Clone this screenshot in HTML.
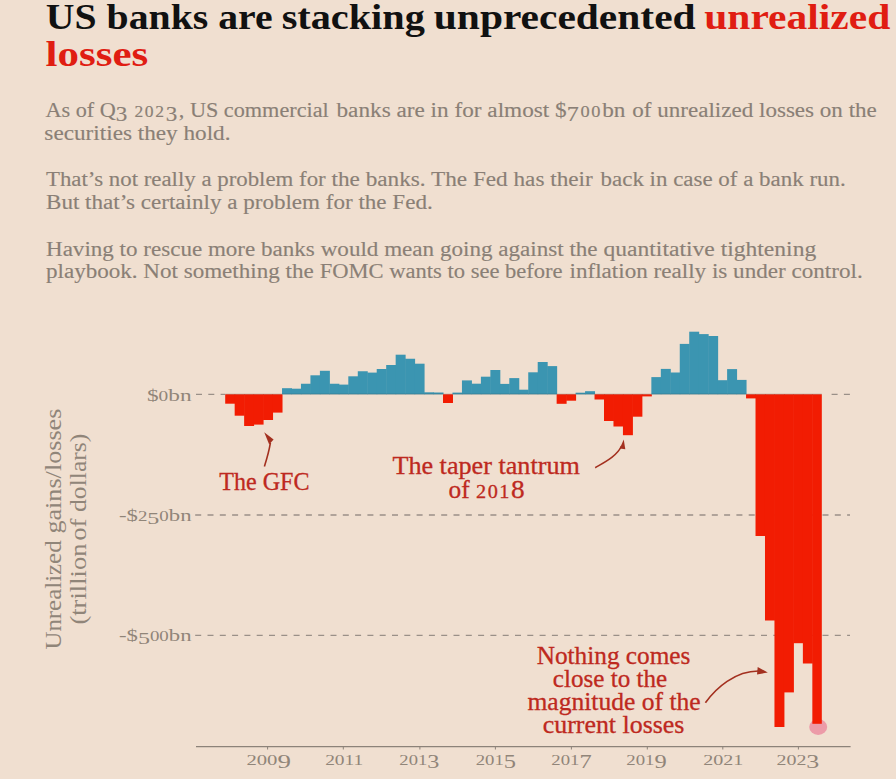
<!DOCTYPE html>
<html><head><meta charset="utf-8"><style>
html,body{margin:0;padding:0;background:#F0DFD0;width:896px;height:779px;overflow:hidden}
svg{display:block;font-family:"Liberation Serif",serif}
</style></head><body>
<svg width="896" height="779" viewBox="0 0 896 779">
<text x="45.89" y="29.40" font-size="35.5" fill="#111111" font-weight="bold" textLength="226.71" lengthAdjust="spacingAndGlyphs">US banks are</text>
<text x="281.70" y="29.40" font-size="35.5" fill="#111111" font-weight="bold" textLength="143.10" lengthAdjust="spacingAndGlyphs">stacking</text>
<text x="433.80" y="29.40" font-size="35.5" fill="#111111" font-weight="bold" textLength="261.80" lengthAdjust="spacingAndGlyphs">unprecedented</text>
<text x="704.30" y="29.40" font-size="35.5" fill="#E01D12" font-weight="bold" textLength="185.96" lengthAdjust="spacingAndGlyphs">unrealized</text>
<text x="45.59" y="65.80" font-size="35.5" fill="#E01D12" font-weight="bold" textLength="102.62" lengthAdjust="spacingAndGlyphs">losses</text>
<text x="45.40" y="116.80" font-size="20.5" fill="#8A7F76" font-weight="normal" textLength="283.30" lengthAdjust="spacingAndGlyphs" stroke="#8A7F76" stroke-width="0.15">As of Q<tspan font-size="21.32" dy="3.90" letter-spacing="1.5">3</tspan><tspan dy="-3.90"> </tspan><tspan font-size="16.20" letter-spacing="1.5">202</tspan><tspan font-size="21.32" dy="3.90" letter-spacing="1.5">3</tspan><tspan dy="-3.90">, US commercial</tspan></text>
<text x="336.50" y="116.80" font-size="20.5" fill="#8A7F76" font-weight="normal" textLength="288.90" lengthAdjust="spacingAndGlyphs" stroke="#8A7F76" stroke-width="0.15">banks are in for almost $<tspan font-size="21.32" dy="3.90" letter-spacing="1.5">7</tspan><tspan font-size="16.20" dy="-3.90" letter-spacing="1.5">00</tspan>bn</text>
<text x="632.30" y="116.80" font-size="20.5" fill="#8A7F76" font-weight="normal" textLength="244.51" lengthAdjust="spacingAndGlyphs" stroke="#8A7F76" stroke-width="0.15">of unrealized losses on the</text>
<text x="44.39" y="139.60" font-size="20.5" fill="#8A7F76" font-weight="normal" textLength="186.13" lengthAdjust="spacingAndGlyphs" stroke="#8A7F76" stroke-width="0.15">securities they hold.</text>
<text x="46.00" y="186.40" font-size="20.5" fill="#8A7F76" font-weight="normal" textLength="279.70" lengthAdjust="spacingAndGlyphs" stroke="#8A7F76" stroke-width="0.15">That’s not really a problem for</text>
<text x="331.50" y="186.40" font-size="20.5" fill="#8A7F76" font-weight="normal" textLength="261.30" lengthAdjust="spacingAndGlyphs" stroke="#8A7F76" stroke-width="0.15">the banks. The Fed has their</text>
<text x="600.60" y="186.40" font-size="20.5" fill="#8A7F76" font-weight="normal" textLength="245.11" lengthAdjust="spacingAndGlyphs" stroke="#8A7F76" stroke-width="0.15">back in case of a bank run.</text>
<text x="46.00" y="209.10" font-size="20.5" fill="#8A7F76" font-weight="normal" textLength="386.70" lengthAdjust="spacingAndGlyphs" stroke="#8A7F76" stroke-width="0.15">But that’s certainly a problem for the Fed.</text>
<text x="46.00" y="255.50" font-size="20.5" fill="#8A7F76" font-weight="normal" textLength="268.80" lengthAdjust="spacingAndGlyphs" stroke="#8A7F76" stroke-width="0.15">Having to rescue more banks</text>
<text x="320.70" y="255.50" font-size="20.5" fill="#8A7F76" font-weight="normal" textLength="276.90" lengthAdjust="spacingAndGlyphs" stroke="#8A7F76" stroke-width="0.15">would mean going against the</text>
<text x="603.50" y="255.50" font-size="20.5" fill="#8A7F76" font-weight="normal" textLength="212.71" lengthAdjust="spacingAndGlyphs" stroke="#8A7F76" stroke-width="0.15">quantitative tightening</text>
<text x="46.00" y="278.40" font-size="20.5" fill="#8A7F76" font-weight="normal" textLength="267.70" lengthAdjust="spacingAndGlyphs" stroke="#8A7F76" stroke-width="0.15">playbook. Not something the</text>
<text x="319.79" y="278.40" font-size="20.5" fill="#8A7F76" font-weight="normal" textLength="242.81" lengthAdjust="spacingAndGlyphs" stroke="#8A7F76" stroke-width="0.15">FOMC wants to see before</text>
<text x="569.50" y="278.40" font-size="20.5" fill="#8A7F76" font-weight="normal" textLength="293.21" lengthAdjust="spacingAndGlyphs" stroke="#8A7F76" stroke-width="0.15">inflation really is under control.</text>
<text x="146.95" y="400.80" font-size="16.5" fill="#908579" font-weight="normal" textLength="44.59" lengthAdjust="spacingAndGlyphs">$<tspan font-size="13.69">0</tspan>bn</text>
<text x="118.98" y="520.80" font-size="16.5" fill="#908579" font-weight="normal" textLength="72.55" lengthAdjust="spacingAndGlyphs">-$<tspan font-size="13.69">2</tspan><tspan font-size="17.49" dy="3.20">5</tspan><tspan font-size="13.69" dy="-3.20">0</tspan>bn</text>
<text x="118.98" y="640.80" font-size="16.5" fill="#908579" font-weight="normal" textLength="72.55" lengthAdjust="spacingAndGlyphs">-$<tspan font-size="17.49" dy="3.20">5</tspan><tspan font-size="13.69" dy="-3.20">00</tspan>bn</text>
<text x="246.45" y="764.70" font-size="16.5" fill="#908579" font-weight="normal" textLength="44.50" lengthAdjust="spacingAndGlyphs"><tspan font-size="15.18">200</tspan><tspan font-size="19.80" dy="3.00">9</tspan></text>
<text x="325.15" y="764.70" font-size="16.5" fill="#908579" font-weight="normal" textLength="38.12" lengthAdjust="spacingAndGlyphs"><tspan font-size="15.18">2011</tspan></text>
<text x="399.36" y="764.70" font-size="16.5" fill="#908579" font-weight="normal" textLength="39.92" lengthAdjust="spacingAndGlyphs"><tspan font-size="15.18">201</tspan><tspan font-size="19.80" dy="3.00">3</tspan></text>
<text x="475.71" y="764.70" font-size="16.5" fill="#908579" font-weight="normal" textLength="40.33" lengthAdjust="spacingAndGlyphs"><tspan font-size="15.18">201</tspan><tspan font-size="19.80" dy="3.00">5</tspan></text>
<text x="551.34" y="764.70" font-size="16.5" fill="#908579" font-weight="normal" textLength="40.31" lengthAdjust="spacingAndGlyphs"><tspan font-size="15.18">201</tspan><tspan font-size="19.80" dy="3.00">7</tspan></text>
<text x="626.37" y="764.70" font-size="16.5" fill="#908579" font-weight="normal" textLength="40.39" lengthAdjust="spacingAndGlyphs"><tspan font-size="15.18">201</tspan><tspan font-size="19.80" dy="3.00">9</tspan></text>
<text x="703.21" y="764.70" font-size="16.5" fill="#908579" font-weight="normal" textLength="40.07" lengthAdjust="spacingAndGlyphs"><tspan font-size="15.18">2021</tspan></text>
<text x="776.47" y="764.70" font-size="16.5" fill="#908579" font-weight="normal" textLength="42.86" lengthAdjust="spacingAndGlyphs"><tspan font-size="15.18">202</tspan><tspan font-size="19.80" dy="3.00">3</tspan></text>
<text x="219.29" y="490.00" font-size="24.2" fill="#BE2920" font-weight="normal" textLength="90.13" lengthAdjust="spacingAndGlyphs" stroke="#BE2920" stroke-width="0.3">The GFC</text>
<text x="392.40" y="474.30" font-size="24.2" fill="#BE2920" font-weight="normal" textLength="187.50" lengthAdjust="spacingAndGlyphs" stroke="#BE2920" stroke-width="0.3">The taper tantrum</text>
<text x="448.58" y="497.70" font-size="24.2" fill="#BE2920" font-weight="normal" textLength="77.70" lengthAdjust="spacingAndGlyphs" stroke="#BE2920" stroke-width="0.3">of <tspan font-size="19.36" letter-spacing="1.5">201</tspan><tspan font-size="26.14" letter-spacing="1.5">8</tspan></text>
<text x="536.70" y="664.10" font-size="24.2" fill="#BE2920" font-weight="normal" textLength="153.71" lengthAdjust="spacingAndGlyphs" stroke="#BE2920" stroke-width="0.3">Nothing comes</text>
<text x="552.89" y="686.70" font-size="24.2" fill="#BE2920" font-weight="normal" textLength="114.22" lengthAdjust="spacingAndGlyphs" stroke="#BE2920" stroke-width="0.3">close to the</text>
<text x="527.50" y="709.80" font-size="24.2" fill="#BE2920" font-weight="normal" textLength="173.11" lengthAdjust="spacingAndGlyphs" stroke="#BE2920" stroke-width="0.3">magnitude of the</text>
<text x="542.70" y="732.60" font-size="24.2" fill="#BE2920" font-weight="normal" textLength="141.71" lengthAdjust="spacingAndGlyphs" stroke="#BE2920" stroke-width="0.3">current losses</text>
<line x1="196" y1="394.3" x2="225" y2="394.3" stroke="#9A9088" stroke-width="1.3" stroke-dasharray="6 6.3"/>
<line x1="831.6" y1="394.3" x2="850" y2="394.3" stroke="#9A9088" stroke-width="1.3" stroke-dasharray="6 6.3"/>
<line x1="195.2" y1="515.0" x2="850" y2="515.0" stroke="#9A9088" stroke-width="1.3" stroke-dasharray="6 6.3"/>
<line x1="195.2" y1="635.3" x2="850" y2="635.3" stroke="#9A9088" stroke-width="1.3" stroke-dasharray="6 6.3"/>
<ellipse cx="818.2" cy="727.0" rx="9.0" ry="7.9" fill="#EC9BA8"/>
<g><rect x="225.20" y="394.30" width="9.970" height="9.40" fill="#F21C02"/><rect x="234.67" y="394.30" width="9.970" height="21.40" fill="#F21C02"/><rect x="244.14" y="394.30" width="9.970" height="31.70" fill="#F21C02"/><rect x="253.61" y="394.30" width="9.970" height="30.30" fill="#F21C02"/><rect x="263.08" y="394.30" width="9.970" height="25.70" fill="#F21C02"/><rect x="272.55" y="394.30" width="9.970" height="18.30" fill="#F21C02"/><rect x="282.02" y="388.20" width="9.970" height="6.10" fill="#3B95B1"/><rect x="291.49" y="388.70" width="9.970" height="5.60" fill="#3B95B1"/><rect x="300.96" y="383.75" width="9.970" height="10.55" fill="#3B95B1"/><rect x="310.43" y="375.30" width="9.970" height="19.00" fill="#3B95B1"/><rect x="319.90" y="370.80" width="9.970" height="23.50" fill="#3B95B1"/><rect x="329.37" y="383.75" width="9.970" height="10.55" fill="#3B95B1"/><rect x="338.84" y="384.60" width="9.970" height="9.70" fill="#3B95B1"/><rect x="348.31" y="376.30" width="9.970" height="18.00" fill="#3B95B1"/><rect x="357.78" y="371.25" width="9.970" height="23.05" fill="#3B95B1"/><rect x="367.25" y="372.60" width="9.970" height="21.70" fill="#3B95B1"/><rect x="376.72" y="369.00" width="9.970" height="25.30" fill="#3B95B1"/><rect x="386.19" y="365.00" width="9.970" height="29.30" fill="#3B95B1"/><rect x="395.66" y="354.70" width="9.970" height="39.60" fill="#3B95B1"/><rect x="405.13" y="358.75" width="9.970" height="35.55" fill="#3B95B1"/><rect x="414.60" y="363.70" width="9.970" height="30.60" fill="#3B95B1"/><rect x="424.07" y="392.30" width="9.970" height="2.00" fill="#3B95B1"/><rect x="433.54" y="392.50" width="9.970" height="1.80" fill="#3B95B1"/><rect x="443.01" y="394.30" width="9.970" height="8.70" fill="#F21C02"/><rect x="452.48" y="392.60" width="9.970" height="1.70" fill="#3B95B1"/><rect x="461.95" y="380.40" width="9.970" height="13.90" fill="#3B95B1"/><rect x="471.42" y="383.70" width="9.970" height="10.60" fill="#3B95B1"/><rect x="480.89" y="376.70" width="9.970" height="17.60" fill="#3B95B1"/><rect x="490.36" y="370.00" width="9.970" height="24.30" fill="#3B95B1"/><rect x="499.83" y="383.90" width="9.970" height="10.40" fill="#3B95B1"/><rect x="509.30" y="378.10" width="9.970" height="16.20" fill="#3B95B1"/><rect x="518.77" y="389.70" width="9.970" height="4.60" fill="#3B95B1"/><rect x="528.24" y="372.30" width="9.970" height="22.00" fill="#3B95B1"/><rect x="537.71" y="362.00" width="9.970" height="32.30" fill="#3B95B1"/><rect x="547.18" y="366.10" width="9.970" height="28.20" fill="#3B95B1"/><rect x="556.65" y="394.30" width="9.970" height="9.50" fill="#F21C02"/><rect x="566.12" y="394.30" width="9.970" height="6.40" fill="#F21C02"/><rect x="575.59" y="392.70" width="9.970" height="1.60" fill="#3B95B1"/><rect x="585.06" y="391.20" width="9.970" height="3.10" fill="#3B95B1"/><rect x="594.53" y="394.30" width="9.970" height="5.20" fill="#F21C02"/><rect x="604.00" y="394.30" width="9.970" height="26.70" fill="#F21C02"/><rect x="613.47" y="394.30" width="9.970" height="32.20" fill="#F21C02"/><rect x="622.94" y="394.30" width="9.970" height="40.90" fill="#F21C02"/><rect x="632.41" y="394.30" width="9.970" height="22.40" fill="#F21C02"/><rect x="641.88" y="394.30" width="9.970" height="2.10" fill="#F21C02"/><rect x="651.35" y="377.10" width="9.970" height="17.20" fill="#3B95B1"/><rect x="660.82" y="368.90" width="9.970" height="25.40" fill="#3B95B1"/><rect x="670.29" y="372.50" width="9.970" height="21.80" fill="#3B95B1"/><rect x="679.76" y="343.90" width="9.970" height="50.40" fill="#3B95B1"/><rect x="689.23" y="331.70" width="9.970" height="62.60" fill="#3B95B1"/><rect x="698.70" y="334.10" width="9.970" height="60.20" fill="#3B95B1"/><rect x="708.17" y="336.00" width="9.970" height="58.30" fill="#3B95B1"/><rect x="717.64" y="380.20" width="9.970" height="14.10" fill="#3B95B1"/><rect x="727.11" y="369.10" width="9.970" height="25.20" fill="#3B95B1"/><rect x="736.58" y="379.90" width="9.970" height="14.40" fill="#3B95B1"/><rect x="746.05" y="394.30" width="9.970" height="4.10" fill="#F21C02"/><rect x="755.52" y="394.30" width="9.970" height="141.70" fill="#F21C02"/><rect x="764.99" y="394.30" width="9.970" height="226.20" fill="#F21C02"/><rect x="774.46" y="394.30" width="9.970" height="332.70" fill="#F21C02"/><rect x="783.93" y="394.30" width="9.970" height="298.10" fill="#F21C02"/><rect x="793.40" y="394.30" width="9.970" height="248.90" fill="#F21C02"/><rect x="802.87" y="394.30" width="9.970" height="269.20" fill="#F21C02"/><rect x="812.34" y="394.30" width="9.470" height="329.50" fill="#F21C02"/></g>
<line x1="225.2" y1="394.2" x2="821.8" y2="394.2" stroke="#1a1a1a" stroke-opacity="0.16" stroke-width="1.3"/>
<line x1="196" y1="746.6" x2="850.6" y2="746.6" stroke="#8C8279" stroke-width="1.4"/>
<line x1="267.6" y1="746" x2="267.6" y2="749.5" stroke="#8C8279" stroke-width="1"/>
<line x1="343.3" y1="746" x2="343.3" y2="749.5" stroke="#8C8279" stroke-width="1"/>
<line x1="419.9" y1="746" x2="419.9" y2="749.5" stroke="#8C8279" stroke-width="1"/>
<line x1="495.4" y1="746" x2="495.4" y2="749.5" stroke="#8C8279" stroke-width="1"/>
<line x1="571.4" y1="746" x2="571.4" y2="749.5" stroke="#8C8279" stroke-width="1"/>
<line x1="647.3" y1="746" x2="647.3" y2="749.5" stroke="#8C8279" stroke-width="1"/>
<line x1="722.8" y1="746" x2="722.8" y2="749.5" stroke="#8C8279" stroke-width="1"/>
<line x1="798.4" y1="746" x2="798.4" y2="749.5" stroke="#8C8279" stroke-width="1"/>
<g transform="translate(60.9,649.6) rotate(-90)"><text x="0" y="0" font-size="24" fill="#908579" textLength="109.2" lengthAdjust="spacingAndGlyphs">Unrealized</text></g>
<g transform="translate(60.9,533.6) rotate(-90)"><text x="0" y="0" font-size="24" fill="#908579" textLength="125.0" lengthAdjust="spacingAndGlyphs">gains/losses</text></g>
<g transform="translate(85.6,624.6) rotate(-90)"><text x="0" y="0" font-size="24" fill="#908579" textLength="81.0" lengthAdjust="spacingAndGlyphs">(trillion</text></g>
<g transform="translate(85.6,540.8) rotate(-90)"><text x="0" y="0" font-size="24" fill="#908579" textLength="22.3" lengthAdjust="spacingAndGlyphs">of</text></g>
<g transform="translate(85.6,512.0) rotate(-90)"><text x="0" y="0" font-size="24" fill="#908579" textLength="78.3" lengthAdjust="spacingAndGlyphs">dollars)</text></g>
<path d="M264.4,466.5 Q268.9,452 270.4,442.8" fill="none" stroke="#A3301F" stroke-width="1.6"/>
<polygon points="264.2,432.3 273.6,439.6 269.2,444.6" fill="#A3301F"/>
<path d="M595.2,467.7 C605,462 617,456 621.5,446" fill="none" stroke="#A3301F" stroke-width="1.6"/>
<polygon points="623.75,439.5 619.8,448.5 625.3,449.3" fill="#A3301F"/>
<path d="M705.4,702.7 C716,688 735,671 758.5,671" fill="none" stroke="#A3301F" stroke-width="1.6"/>
<polygon points="767.8,672.4 757.7,667.1 757.0,674.6" fill="#A3301F"/>
</svg>
</body></html>
